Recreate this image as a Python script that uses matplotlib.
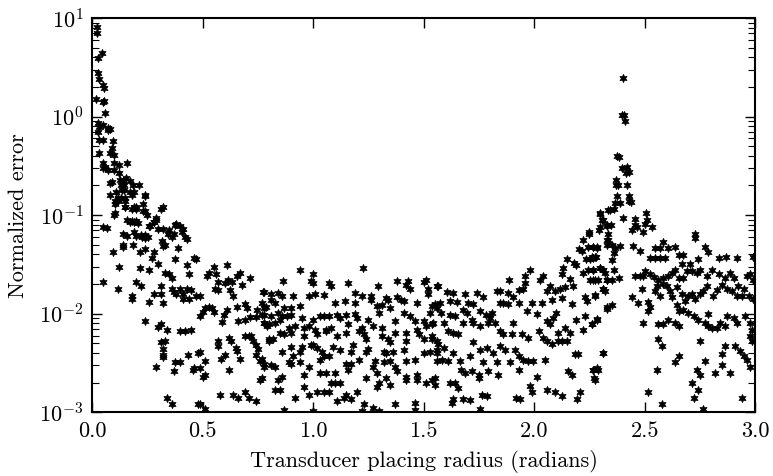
import numpy as np
import matplotlib
matplotlib.use("Agg")
import matplotlib.pyplot as plt
from matplotlib.ticker import LogLocator, MultipleLocator, NullFormatter

plt.rcParams['font.family'] = 'cmr10'
plt.rcParams['mathtext.fontset'] = 'cm'
plt.rcParams['axes.formatter.use_mathtext'] = True
plt.rcParams['font.size'] = 16

# --- points, (radius, normalized error) ---

# steep fall near radius 0
rise_pts = [
    (0.021, 8.1), (0.021, 7.0), (0.044, 4.4), (0.026, 3.9), (0.028, 2.8), (0.03, 2.4),
    (0.05, 2.1), (0.055, 1.95), (0.018, 1.5), (0.05, 1.4), (0.056, 1.45), (0.059, 1.1),
    (0.028, 0.87), (0.03, 0.78), (0.05, 0.82), (0.073, 0.77), (0.073, 0.73), (0.08, 0.75),
    (0.028, 0.7), (0.05, 0.58), (0.03, 0.58), (0.096, 0.56), (0.09, 0.48), (0.082, 0.43),
    (0.1, 0.41), (0.03, 0.43), (0.05, 0.34), (0.06, 0.31), (0.1, 0.34), (0.12, 0.32),
    (0.158, 0.34), (0.05, 0.3), (0.1, 0.29), (0.12, 0.27), (0.082, 0.21), (0.128, 0.23),
    (0.14, 0.22), (0.155, 0.24), (0.17, 0.22), (0.185, 0.2), (0.13, 0.2), (0.145, 0.18),
    (0.172, 0.17), (0.19, 0.17), (0.11, 0.17), (0.116, 0.15), (0.116, 0.14), (0.13, 0.15),
    (0.15, 0.14), (0.24, 0.16), (0.15, 0.12), (0.19, 0.12), (0.2, 0.115), (0.23, 0.13),
    (0.24, 0.11), (0.1, 0.1), (0.32, 0.12), (0.25, 0.1), (0.17, 0.085), (0.19, 0.085),
    (0.21, 0.083), (0.29, 0.09), (0.28, 0.085), (0.26, 0.077), (0.32, 0.072), (0.375, 0.08),
    (0.35, 0.07), (0.37, 0.065), (0.4, 0.078), (0.41, 0.072), (0.05, 0.075), (0.14, 0.065),
    (0.19, 0.068), (0.22, 0.063), (0.24, 0.063),
    (0.074, 0.29), (0.089, 0.215), (0.081, 0.16), (0.104, 0.13), (0.105, 0.14), (0.134, 0.18),
    (0.145, 0.2), (0.15, 0.15), (0.18, 0.16), (0.214, 0.2), (0.24, 0.155), (0.15, 0.12),
    (0.18, 0.115), (0.2, 0.12), (0.23, 0.11), (0.16, 0.09), (0.18, 0.088), (0.2, 0.088),
    (0.262, 0.077),
]

# left part, radius 0 .. 0.8
left_pts = [
    (0.104, 0.106), (0.066, 0.074), (0.096, 0.042), (0.122, 0.030), (0.05, 0.021),
    (0.118, 0.018), (0.157, 0.062), (0.14, 0.050), (0.14, 0.047), (0.184, 0.05),
    (0.2, 0.062), (0.225, 0.06), (0.24, 0.059), (0.255, 0.06), (0.217, 0.042),
    (0.24, 0.045), (0.27, 0.037), (0.28, 0.042), (0.315, 0.055), (0.32, 0.049),
    (0.345, 0.065), (0.36, 0.06), (0.33, 0.05), (0.38, 0.082), (0.405, 0.068),
    (0.42, 0.06), (0.43, 0.057), (0.39, 0.046), (0.375, 0.036), (0.30, 0.072),
    (0.29, 0.094), (0.28, 0.085), (0.31, 0.115), (0.217, 0.029), (0.26, 0.028),
    (0.30, 0.032), (0.33, 0.026), (0.35, 0.025), (0.36, 0.023), (0.43, 0.031),
    (0.44, 0.025), (0.46, 0.037), (0.47, 0.036), (0.2, 0.021), (0.22, 0.019),
    (0.31, 0.019), (0.36, 0.018), (0.4, 0.018), (0.38, 0.0157), (0.41, 0.016),
    (0.43, 0.018), (0.45, 0.0175), (0.18, 0.0152), (0.18, 0.014), (0.28, 0.0158),
    (0.31, 0.0158), (0.26, 0.013), (0.32, 0.0128), (0.37, 0.0165), (0.41, 0.014),
    (0.44, 0.014), (0.47, 0.015), (0.49, 0.015), (0.52, 0.024), (0.53, 0.026),
    (0.55, 0.030), (0.56, 0.025), (0.61, 0.031), (0.57, 0.021), (0.6, 0.0205),
    (0.615, 0.022), (0.635, 0.021), (0.655, 0.024), (0.67, 0.026), (0.68, 0.0195),
    (0.715, 0.023), (0.555, 0.0178), (0.57, 0.0172), (0.625, 0.0172), (0.53, 0.0118),
    (0.51, 0.0115), (0.5, 0.0104), (0.49, 0.0095), (0.545, 0.0115), (0.55, 0.0105),
    (0.595, 0.0097), (0.61, 0.0108), (0.587, 0.0082), (0.64, 0.015), (0.655, 0.0118),
    (0.69, 0.0125), (0.7, 0.0115), (0.66, 0.0084), (0.69, 0.0087), (0.715, 0.0093),
    (0.74, 0.0093), (0.745, 0.011), (0.775, 0.0165), (0.785, 0.0118), (0.77, 0.0097),
    (0.78, 0.008), (0.79, 0.0075), (0.4, 0.0066), (0.42, 0.0066), (0.45, 0.0068),
    (0.34, 0.0069), (0.31, 0.0079), (0.33, 0.0053), (0.32, 0.0038), (0.29, 0.0029),
    (0.37, 0.0026), (0.4, 0.0032), (0.435, 0.0038), (0.46, 0.0028), (0.49, 0.0028),
    (0.48, 0.004), (0.49, 0.0041), (0.51, 0.0033), (0.51, 0.0024), (0.57, 0.0053),
    (0.57, 0.0047), (0.585, 0.0035), (0.6, 0.0038), (0.62, 0.0056), (0.63, 0.0053),
    (0.65, 0.0045), (0.655, 0.0042), (0.67, 0.0035), (0.62, 0.0027), (0.71, 0.006),
    (0.69, 0.006), (0.72, 0.006), (0.73, 0.0053), (0.74, 0.0048), (0.75, 0.0044),
    (0.74, 0.0038), (0.77, 0.0035), (0.78, 0.0031), (0.8, 0.0053), (0.76, 0.0021),
    (0.34, 0.0014), (0.36, 0.0012), (0.49, 0.0012), (0.51, 0.00108), (0.58, 0.00148),
    (0.64, 0.0015), (0.66, 0.0014), (0.69, 0.0016), (0.71, 0.0014), (0.74, 0.0013),
    (0.24, 0.0084), (0.32, 0.0036), (0.3, 0.0073), (0.31, 0.0052), (0.32, 0.0044),
    (0.375, 0.0032), (0.455, 0.0027), (0.5, 0.0023), (0.48, 0.0012),
]

# flat middle, radius 0.76 .. 1.57
mid_pts = [
    (0.94, 0.028), (1.0, 0.025), (0.99, 0.0214), (1.0, 0.0205), (0.865, 0.0214),
    (1.225, 0.029), (1.07, 0.0205), (1.08, 0.019), (1.16, 0.0205), (1.295, 0.019),
    (1.38, 0.0214), (1.43, 0.0214), (1.42, 0.0195), (1.44, 0.018), (1.5, 0.021),
    (1.51, 0.022), (1.52, 0.018), (1.56, 0.019),
    (0.78, 0.0166), (0.81, 0.0157), (0.84, 0.0163), (0.86, 0.0151), (0.91, 0.0151),
    (0.98, 0.0151), (1.01, 0.0157), (1.05, 0.0155), (1.19, 0.0163), (1.22, 0.0151),
    (1.26, 0.0151), (1.38, 0.0149), (1.52, 0.0157),
    (0.81, 0.0139), (0.83, 0.0129), (0.77, 0.0129), (0.78, 0.0114), (0.94, 0.0119),
    (0.9, 0.0114), (0.87, 0.0114), (1.1, 0.0129), (1.145, 0.0134), (1.19, 0.0127),
    (1.26, 0.0139), (1.29, 0.0119), (1.31, 0.0122), (1.33, 0.0145), (1.34, 0.0139),
    (1.35, 0.0114), (1.4, 0.0139), (1.41, 0.0134), (1.47, 0.0127), (1.54, 0.0119),
    (1.56, 0.0114),
    (0.78, 0.0098), (0.81, 0.0094), (0.84, 0.0102), (0.86, 0.0094), (0.88, 0.0094),
    (0.9, 0.0098), (0.95, 0.009), (1.0, 0.0087), (1.03, 0.0094), (1.05, 0.0094),
    (1.07, 0.0094), (1.11, 0.0098), (1.12, 0.009), (1.15, 0.0098), (1.19, 0.0100),
    (1.2, 0.009), (1.25, 0.0087), (1.3, 0.0102), (1.37, 0.0084), (1.41, 0.0102),
    (1.44, 0.0094), (1.46, 0.0084), (1.5, 0.0084),
    (0.78, 0.0081), (0.8, 0.0078), (0.83, 0.0081), (0.85, 0.0087), (0.89, 0.0072),
    (0.92, 0.0075), (0.96, 0.0072), (0.98, 0.0075), (1.01, 0.0069), (1.06, 0.0069),
    (1.08, 0.0072), (1.16, 0.0078), (1.22, 0.0072), (1.27, 0.0075), (1.31, 0.0072),
    (1.47, 0.0069), (1.51, 0.0075), (1.54, 0.0078),
    (1.37, 0.0064), (1.42, 0.0064), (0.8, 0.0055), (0.82, 0.0055), (0.85, 0.0064),
    (0.87, 0.0062), (0.9, 0.0064), (0.96, 0.0059), (1.02, 0.0062), (1.06, 0.0066),
    (1.11, 0.0059), (1.15, 0.0064), (1.21, 0.0066), (1.23, 0.0062), (1.24, 0.0055),
    (1.31, 0.0059), (1.34, 0.0055), (1.35, 0.0051), (1.42, 0.0053), (1.48, 0.0062),
    (1.5, 0.0055), (1.54, 0.0059), (1.56, 0.0053),
    (0.86, 0.0041), (0.9, 0.0046), (0.91, 0.0037), (0.94, 0.0041), (0.95, 0.0046),
    (0.99, 0.0048), (1.0, 0.0048), (1.02, 0.0045), (1.04, 0.0041), (1.09, 0.0046),
    (1.12, 0.0043), (1.18, 0.0048), (1.17, 0.0041), (1.24, 0.0041), (1.25, 0.0044),
    (1.32, 0.0041), (1.33, 0.004), (1.36, 0.0041), (1.41, 0.0043), (1.5, 0.004),
    (1.53, 0.0041), (1.56, 0.0043),
    (0.76, 0.0033), (0.78, 0.0029), (0.81, 0.003), (0.83, 0.0029), (0.89, 0.0032),
    (0.9, 0.0031), (0.94, 0.0032), (0.96, 0.0024), (0.98, 0.0029), (1.03, 0.0034),
    (1.05, 0.0037), (1.07, 0.0037), (1.03, 0.0025), (1.06, 0.0025), (1.1, 0.0025),
    (1.15, 0.0031), (1.16, 0.0027), (1.17, 0.0031), (1.21, 0.0034), (1.28, 0.0033),
    (1.27, 0.0029), (1.29, 0.0025), (1.32, 0.0032), (1.35, 0.0033), (1.37, 0.0029),
    (1.38, 0.0026), (1.42, 0.0033), (1.46, 0.0034), (1.47, 0.0024), (1.56, 0.0033),
    (0.77, 0.0022), (0.86, 0.0023), (0.84, 0.0021), (0.83, 0.0017), (0.85, 0.0017),
    (0.96, 0.0018), (1.02, 0.0016), (1.05, 0.0016), (1.07, 0.0016), (1.08, 0.002),
    (1.1, 0.002), (1.12, 0.002), (1.2, 0.0016), (1.24, 0.0022), (1.29, 0.0018),
    (1.3, 0.0020), (1.33, 0.0022), (1.35, 0.0019), (1.42, 0.0021), (1.42, 0.0023),
    (1.47, 0.0021), (1.51, 0.002), (1.54, 0.0021),
    (0.92, 0.0014), (0.98, 0.0015), (1.11, 0.0013), (1.14, 0.0014), (1.15, 0.0015),
    (1.17, 0.00135), (1.23, 0.0012), (1.27, 0.0011), (1.37, 0.0012), (1.46, 0.00125),
    (0.87, 0.00105), (1.22, 0.00102), (1.46, 0.00105), (1.0, 0.00103), (1.3, 0.00104),
]

# rising side, radius 1.53 .. 2.34
climb_pts = [
    (2.30, 0.104), (2.31, 0.09), (2.336, 0.112), (2.33, 0.077), (2.295, 0.070),
    (2.33, 0.056), (2.25, 0.064), (2.22, 0.056), (2.205, 0.045), (2.215, 0.043),
    (2.245, 0.047), (2.268, 0.048), (2.283, 0.046), (2.235, 0.036), (2.253, 0.036),
    (2.268, 0.037), (2.28, 0.038), (2.33, 0.050), (2.147, 0.036), (2.18, 0.033),
    (2.19, 0.031), (2.22, 0.026), (2.245, 0.028), (2.268, 0.028), (2.3, 0.029),
    (2.313, 0.028), (2.13, 0.029), (2.125, 0.025), (2.163, 0.0226), (2.253, 0.022),
    (2.275, 0.022), (2.33, 0.022), (1.98, 0.028), (2.027, 0.022), (2.04, 0.024),
    (1.96, 0.024), (1.96, 0.0206), (1.888, 0.022), (2.313, 0.0179), (2.275, 0.0151),
    (2.23, 0.0147), (2.238, 0.0136), (2.33, 0.0112), (2.072, 0.019), (2.095, 0.017),
    (2.117, 0.0176), (2.14, 0.0185), (2.125, 0.0143), (2.17, 0.0125), (2.178, 0.019),
    (1.95, 0.0179), (1.93, 0.0174), (1.93, 0.0129), (1.906, 0.0149), (1.884, 0.0163),
    (1.846, 0.017), (1.86, 0.0129), (1.884, 0.0125), (1.99, 0.0129), (1.966, 0.0106),
    (2.012, 0.0099), (2.034, 0.0129), (2.057, 0.017), (2.08, 0.0139), (2.1, 0.0102),
    (2.057, 0.0084), (2.072, 0.0078), (2.087, 0.009), (2.19, 0.0087), (2.23, 0.0094),
    (2.283, 0.0089), (2.26, 0.0078), (2.22, 0.0069), (2.14, 0.0072), (2.11, 0.0064),
    (2.163, 0.0064), (2.147, 0.0053), (2.125, 0.0053), (2.185, 0.0039), (2.2, 0.0039),
    (2.313, 0.004), (2.283, 0.0028), (2.268, 0.0027), (2.275, 0.0021), (2.155, 0.0026),
    (2.17, 0.0024), (2.207, 0.0016), (2.192, 0.00135), (2.125, 0.00146), (2.095, 0.0016),
    (2.057, 0.0017), (2.012, 0.0023), (1.98, 0.00185), (1.99, 0.0016), (1.936, 0.00137),
    (1.918, 0.0014), (1.755, 0.00107), (1.763, 0.0015), (1.785, 0.00147), (1.71, 0.00134),
    (1.68, 0.00137), (1.635, 0.00137), (1.627, 0.00125), (1.657, 0.00178), (1.62, 0.002),
    (1.55, 0.0022), (1.55, 0.0019), (1.64, 0.002), (1.67, 0.0027), (1.685, 0.0025),
    (1.72, 0.0026), (1.75, 0.0024), (1.75, 0.0022), (1.793, 0.0026), (1.838, 0.0024),
    (1.93, 0.0027),
    (1.567, 0.019), (1.604, 0.0166), (1.635, 0.0163), (1.687, 0.0157), (1.74, 0.0163),
    (1.77, 0.0149), (1.55, 0.0124), (1.574, 0.0129), (1.62, 0.0134), (1.65, 0.0131),
    (1.7, 0.0129), (1.725, 0.0124), (1.83, 0.017), (1.846, 0.0129), (1.53, 0.0102),
    (1.58, 0.0102), (1.62, 0.0098), (1.64, 0.0094), (1.68, 0.011), (1.695, 0.0102),
    (1.755, 0.0106), (1.78, 0.0098), (1.81, 0.0102), (1.8, 0.009), (1.823, 0.0081),
    (1.544, 0.0081), (1.59, 0.0081), (1.612, 0.0067), (1.635, 0.0064), (1.657, 0.0062),
    (1.68, 0.0081), (1.718, 0.0087), (1.725, 0.0081), (1.755, 0.0075), (1.793, 0.0081),
    (1.846, 0.0067), (1.86, 0.0062), (1.9, 0.0062), (1.906, 0.0081), (1.944, 0.0062),
    (1.974, 0.0057), (2.02, 0.0067), (2.04, 0.0057), (2.057, 0.0053), (2.08, 0.0049),
    (1.537, 0.0055), (1.567, 0.0049), (1.59, 0.0045), (1.56, 0.004), (1.582, 0.0034),
    (1.612, 0.0033), (1.635, 0.004), (1.665, 0.0033), (1.71, 0.0037), (1.725, 0.0051),
    (1.755, 0.0043), (1.77, 0.0032), (1.785, 0.0045), (1.815, 0.004), (1.83, 0.0032),
    (1.846, 0.0047), (1.868, 0.0043), (1.89, 0.0032), (1.914, 0.0043), (1.93, 0.0037),
    (1.95, 0.0034), (1.974, 0.0033), (1.997, 0.0033), (2.05, 0.0034), (2.11, 0.0053),
]

# spike near 2.4
peak_pts = [
    (2.401, 2.45), (2.397, 1.04), (2.407, 1.04), (2.409, 0.91), (2.374, 0.40),
    (2.386, 0.39), (2.419, 0.31), (2.397, 0.30), (2.416, 0.27), (2.427, 0.275),
    (2.371, 0.23), (2.381, 0.2), (2.419, 0.2), (2.371, 0.2), (2.374, 0.157),
    (2.431, 0.156), (2.427, 0.14), (2.439, 0.137), (2.366, 0.134), (2.389, 0.134),
    (2.344, 0.114), (2.359, 0.115), (2.298, 0.103), (2.306, 0.09), (2.401, 0.093),
    (2.457, 0.092), (2.507, 0.105), (2.51, 0.09), (2.33, 0.08), (2.347, 0.08),
    (2.296, 0.075), (2.442, 0.071), (2.457, 0.08), (2.467, 0.076), (2.5, 0.082),
    (2.532, 0.076), (2.492, 0.068), (2.25, 0.068), (2.332, 0.064), (2.728, 0.064),
    (2.336, 0.056), (2.35, 0.05), (2.366, 0.046), (2.389, 0.049), (2.268, 0.048),
    (2.283, 0.047), (2.26, 0.038), (2.276, 0.038), (2.359, 0.041), (2.351, 0.035),
    (2.268, 0.028), (2.298, 0.029), (2.313, 0.028), (2.32, 0.026), (2.359, 0.028),
    (2.268, 0.022), (2.29, 0.022), (2.328, 0.022), (2.35, 0.022), (2.386, 0.023),
    (2.313, 0.0176), (2.276, 0.0154), (2.32, 0.017), (2.328, 0.0118), (2.35, 0.0122),
    (2.26, 0.0078), (2.283, 0.0086), (2.313, 0.004), (2.268, 0.0027), (2.29, 0.0027),
    (2.27, 0.0022),
]

# tail out to 3.0
tail_pts = [
    (2.449, 0.049), (2.479, 0.043), (2.585, 0.053), (2.547, 0.046), (2.57, 0.046),
    (2.525, 0.037), (2.547, 0.037), (2.57, 0.037), (2.592, 0.037), (2.607, 0.046),
    (2.637, 0.048), (2.653, 0.039), (2.675, 0.039), (2.728, 0.058), (2.773, 0.048),
    (2.788, 0.042), (2.743, 0.036), (2.668, 0.032), (2.706, 0.032), (2.834, 0.037),
    (2.868, 0.038), (2.917, 0.037), (2.992, 0.038), (2.457, 0.024), (2.479, 0.024),
    (2.502, 0.027), (2.494, 0.024), (2.525, 0.025), (2.54, 0.0236), (2.562, 0.022),
    (2.585, 0.023), (2.607, 0.024), (2.622, 0.026), (2.637, 0.028), (2.653, 0.023),
    (2.675, 0.023), (2.69, 0.027), (2.713, 0.027), (2.735, 0.026), (2.751, 0.028),
    (2.781, 0.024), (2.804, 0.028), (2.834, 0.025), (2.864, 0.023), (2.887, 0.026),
    (2.902, 0.023), (2.962, 0.024), (2.977, 0.025), (2.992, 0.022), (2.441, 0.0147),
    (2.49, 0.0176), (2.472, 0.0127), (2.517, 0.013), (2.525, 0.0118), (2.547, 0.017),
    (2.555, 0.019), (2.57, 0.015), (2.585, 0.02), (2.6, 0.019), (2.615, 0.017),
    (2.622, 0.0147), (2.645, 0.0185), (2.668, 0.016), (2.683, 0.0134), (2.698, 0.015),
    (2.713, 0.016), (2.728, 0.014), (2.751, 0.016), (2.766, 0.017), (2.781, 0.019),
    (2.811, 0.015), (2.826, 0.0173), (2.849, 0.0195), (2.872, 0.0176), (2.894, 0.017),
    (2.924, 0.019), (2.917, 0.015), (2.94, 0.015), (2.947, 0.0176), (2.97, 0.015),
    (2.99, 0.014), (2.645, 0.0122), (2.653, 0.0106), (2.675, 0.011), (2.698, 0.0102),
    (2.721, 0.0094), (2.743, 0.0087), (2.788, 0.0099), (2.773, 0.0081), (2.788, 0.0075),
    (2.804, 0.0072), (2.826, 0.0072), (2.841, 0.0081), (2.864, 0.0075), (2.872, 0.0094),
    (2.902, 0.0091), (2.917, 0.0081), (2.955, 0.0094), (2.977, 0.0081), (2.985, 0.0069),
    (2.977, 0.0059), (2.985, 0.0053), (2.562, 0.0078), (2.585, 0.0078), (2.607, 0.0087),
    (2.637, 0.0081), (2.653, 0.0075), (2.494, 0.0081), (2.517, 0.0106), (2.562, 0.0055),
    (2.577, 0.0047), (2.751, 0.0053), (2.864, 0.0047), (2.849, 0.0039), (2.909, 0.0047),
    (2.932, 0.0042), (2.947, 0.0037), (2.962, 0.0034), (2.977, 0.0029), (2.653, 0.0037),
    (2.637, 0.0032), (2.773, 0.0033), (2.849, 0.003), (2.735, 0.0027), (2.751, 0.0024),
    (2.818, 0.0025), (2.887, 0.0025), (2.555, 0.0027), (2.713, 0.002), (2.743, 0.0017),
    (2.517, 0.0016), (2.721, 0.0014), (2.577, 0.0012), (2.94, 0.0014), (2.766, 0.00108),
]

groups = [rise_pts, left_pts, mid_pts, climb_pts, peak_pts, tail_pts]
pts = np.array([p for g in groups for p in g])
radius = pts[:, 0]
error = pts[:, 1]

fig = plt.figure(figsize=(7.73, 4.76), dpi=100)
ax = fig.add_axes([0.119, 0.134, 0.858, 0.828])

# six-pointed filled star, close to the blotted asterisks of the scan
ax.plot(radius, error, linestyle='none', marker=(6, 1, 0), markersize=6,
        color='black', markeredgewidth=0.5)

ax.set_yscale('log')
ax.set_xlim(0.0, 3.0)
ax.set_ylim(1e-3, 1e1)
ax.xaxis.set_major_locator(MultipleLocator(0.5))
ax.xaxis.set_major_formatter(plt.FormatStrFormatter('%.1f'))
ax.yaxis.set_major_locator(LogLocator(base=10, numticks=10))
ax.yaxis.set_minor_locator(LogLocator(base=10, subs=np.arange(2, 10), numticks=10))
ax.yaxis.set_minor_formatter(NullFormatter())

ax.tick_params(which='both', direction='in', top=True, right=True)
ax.tick_params(which='major', length=7, width=1.0)
ax.tick_params(which='minor', length=5, width=0.8)
ax.tick_params(axis='x', pad=7)
ax.tick_params(axis='y', pad=6)
for s in ax.spines.values():
    s.set_linewidth(1.5)

ax.set_xlabel('Transducer placing radius (radians)', labelpad=6)
ax.set_ylabel('Normalized error', labelpad=8)

fig.savefig('out.png', dpi=100)
